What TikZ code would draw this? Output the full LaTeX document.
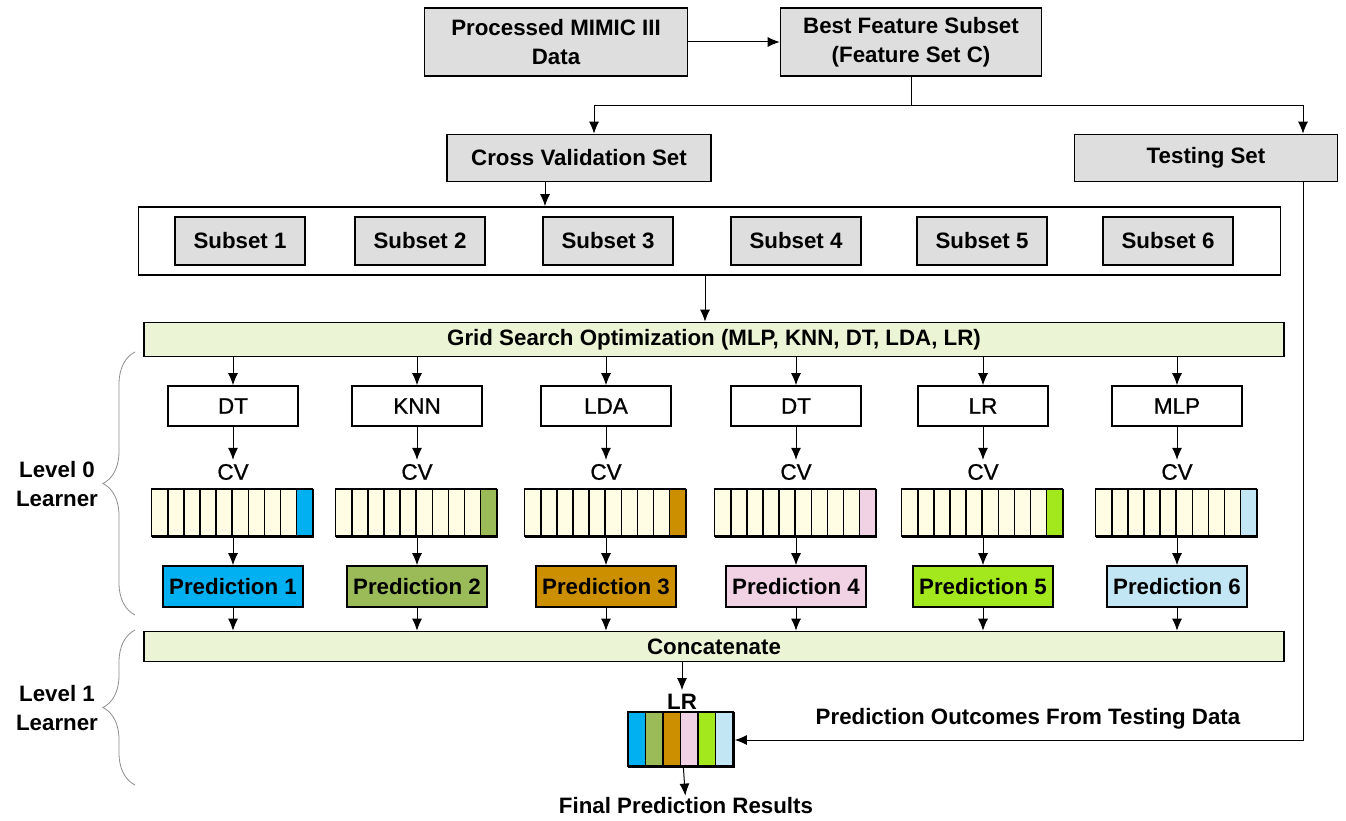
\documentclass[tikz,border=0pt]{standalone}
\usepackage{fontspec}
\setmainfont{Liberation Sans}
\newfontfamily\mediumfont{Liberation Sans}[FakeBold=0.8]
\usetikzlibrary{arrows.meta,calc,decorations.pathreplacing}
\definecolor{boxgray}{HTML}{DEDEDE}
\definecolor{bargreen}{HTML}{EBF5D5}
\definecolor{cellcream}{HTML}{FFFDE3}
\definecolor{predone}{HTML}{00B0F0}
\definecolor{predtwo}{HTML}{9BBB59}
\definecolor{predthree}{HTML}{CC8F00}
\definecolor{predfour}{HTML}{F0D2E4}
\definecolor{predfive}{HTML}{A2E81C}
\definecolor{predsix}{HTML}{C2E6F4}
\definecolor{bracegray}{HTML}{8C8C8C}
\newcommand{\boldtext}{\bfseries\fontsize{22.3}{29}\selectfont}
\newcommand{\plaintext}{\mediumfont\fontsize{22.5}{26}\selectfont}
\tikzset{
  flow/.style={-{Latex[length=12pt,width=10pt]}, line width=1pt},
  graybox/.style={draw, line width=1.6pt, fill=boxgray, font=\boldtext, align=center, inner sep=0pt},
  greenbar/.style={draw, line width=1.6pt, fill=bargreen, font=\boldtext, inner sep=0pt, minimum width=1140},
  modelbox/.style={draw, line width=1.6pt, fill=white, font=\plaintext, inner sep=0pt, minimum width=130, minimum height=40},
  predbox/.style={draw, line width=1.6pt, font=\boldtext, inner sep=0pt, minimum width=140, minimum height=41},
  barbox/.style={draw, line width=1.6pt, inner sep=0pt, minimum width=161, minimum height=47},
  cellline/.style={line width=1.5pt},
  cvtext/.style={font=\plaintext, inner sep=4pt},
  labeltext/.style={font=\boldtext, align=center, inner sep=2pt},
  lvlbrace/.style={bracegray, line width=0.8pt, decorate, decoration={brace, amplitude=32pt}}
}
\begin{document}
\begin{tikzpicture}[x=1pt, y=-1pt]
  \useasboundingbox (0,0) rectangle (1346,821);
  % data preparation
  \node[graybox, minimum width=263, minimum height=68] (mimic) at (556,42) {Processed MIMIC III\\Data};
  \node[graybox, minimum width=261, minimum height=68] (bestset) at (911,42) {Best Feature Subset\\(Feature Set C)};
  \node[graybox, minimum width=264, minimum height=47] (cvset) at (579,158) {Cross Validation Set};
  \node[graybox, minimum width=263, minimum height=47] (testset) at (1206,158) {Testing Set};
  \draw[flow] (mimic) -- (bestset);
  \coordinate (cvin) at (594,0);
  \coordinate (tsin) at (1303,0);
  \draw[flow] (bestset.south) -- ++(0,29) -| (cvset.north -| cvin);
  \draw[flow] (bestset.south) -- ++(0,29) -| (testset.north -| tsin);

  % cross validation subsets
  \node[draw, line width=1.6pt, minimum width=1142, minimum height=68, inner sep=0pt] (subbox) at (709.5,241) {};
  \foreach \x [count=\n] in {240,420,608,796,982,1168}
    \node[graybox, minimum width=130, minimum height=48] (sub\n) at (\x,241) {Subset \n};
  \coordinate (cvout) at (545,0);
  \draw[flow] (cvset.south -| cvout) -- (subbox.north -| cvout);

  \node[greenbar, minimum height=34] (grid) at (714,339.5) {Grid Search Optimization (MLP, KNN, DT, LDA, LR)};
  \node[greenbar, minimum height=30] (concat) at (714,646.5) {Concatenate};
  \coordinate (gin) at (705,0);
  \draw[flow] (subbox.south -| gin) -- (grid.north -| gin);

  % level 0 learners
  \foreach \x/\m/\c [count=\n] in {233/DT/predone, 417/KNN/predtwo, 606/LDA/predthree, 796/DT/predfour, 983/LR/predfive, 1177/MLP/predsix}{
    \node[modelbox] (model\n) at (\x,406) {\m};
    \node[cvtext] (cv\n) at (\x,472) {CV};
    \node[barbox] (bar\n) at (\x,513.5) {};
    \foreach \k in {0,...,8}
      \draw[cellline, fill=cellcream] ($(bar\n.north west)+(\k*16.1,0)$) rectangle ++(16.1,47);
    \draw[cellline, fill=\c] ($(bar\n.north west)+(144.9,0)$) rectangle ++(16.1,47);
    \node[predbox, fill=\c] (pred\n) at (\x,586.5) {Prediction \n};
    \draw[flow] (grid.south -| model\n) -- (model\n);
    \draw[flow] (model\n) -- (cv\n);
    \draw[flow] (bar\n) -- (pred\n);
    \draw[flow] (pred\n) -- (concat.north -| pred\n);
  }

  % level 1 learner
  \node[cvtext, font=\boldtext] (lrtext) at (682,702) {LR};
  \node[barbox, minimum width=105, minimum height=54] (stack) at (681.5,740) {};
  \foreach \c [count=\k] in {predone,predtwo,predthree,predfour,predfive,predsix}
    \draw[cellline, fill=\c] ($(stack.north west)+({(\k-1)*17.5},0)$) rectangle ++(17.5,54);
  \node[labeltext] (final) at (686,806) {Final Prediction Results};
  \node[labeltext] (outcomes) at (1028,719) {Prediction Outcomes From Testing Data};
  \draw[flow] (concat.south -| lrtext) -- (lrtext);
  \draw[flow] (stack) -- (final);
  \draw[flow] (testset.south -| tsin) |- (stack.east);

  % learner levels
  \draw[lvlbrace] (135,615) -- (135,352);
  \draw[lvlbrace] (135,785) -- (135,630);
  \node[labeltext] (lvlzero) at (57,484) {Level 0\\Learner};
  \node[labeltext] (lvlone) at (57,708) {Level 1\\Learner};
\end{tikzpicture}
\end{document}
